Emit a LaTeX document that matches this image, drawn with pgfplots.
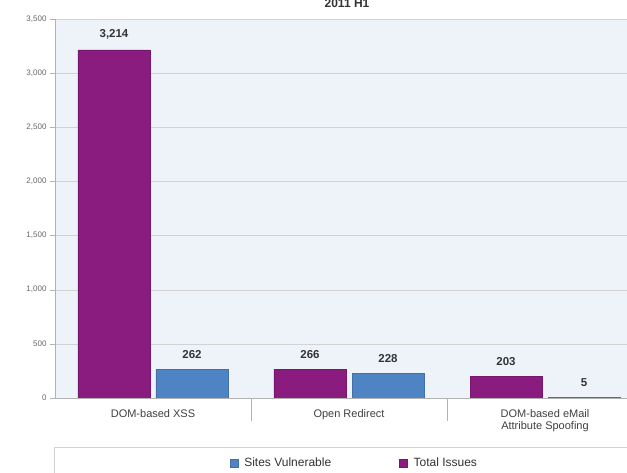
\documentclass[border=0pt]{standalone}
\usepackage{fontspec}
\setmainfont{Liberation Sans}
\usepackage{pgfplots}
\pgfplotsset{compat=1.18}
\definecolor{pur}{HTML}{8A1B7F}
\definecolor{blu}{HTML}{4F84C4}
\definecolor{bgc}{HTML}{EEF3FA}
\begin{document}
\begin{tikzpicture}[x=1pt,y=1pt]
\path[use as bounding box] (-55,-75) rectangle (572,398);
\draw[gray!35, fill=white] (-1,-80) rectangle (650,-49);
\node[font=\bfseries\fontsize{12}{13}\selectfont, text=black!80] at (292,395) {2011 H1};
\begin{axis}[
  scale only axis,
  width=588pt, height=379pt,
  xmin=-0.5, xmax=2.5, ymin=0, ymax=3500,
  axis background/.style={fill=bgc},
  axis x line=bottom, axis y line=left,
  axis line style={-, gray!60},
  ytick={0,500,...,3500},
  ymajorgrids, grid style={gray!35},
  xtick={0,1,2},
  xticklabels={DOM-based XSS, Open Redirect, {DOM-based eMail\\Attribute Spoofing}},
  minor xtick={0.5,1.5},
  major x tick style={draw=none},
  minor x tick style={gray!60},
  minor tick length=23pt,
  x tick label style={font=\fontsize{11}{12}\selectfont, align=center, text=black!75, yshift=-3pt},
  y tick label style={font=\fontsize{8}{9}\selectfont, text=black!60},
  /pgf/number format/assume math mode=true,
  /pgf/number format/1000 sep={,},
  major tick length=5pt,
  tick align=outside,
  y tick style={gray!60},
  ybar, bar width=72pt,
  nodes near coords,
  every node near coord/.append style={font=\bfseries\fontsize{11.5}{12}\selectfont, text=black!80, yshift=7pt},
  legend columns=2,
  legend style={at={(0.292,-0.1715)}, anchor=west, draw=none, fill=none,
    font=\fontsize{12}{13}\selectfont, text=black!80,
    nodes={inner xsep=6pt},
    /tikz/every even column/.append style={column sep=62pt}},
  legend image code/.code={\fill[#1] (0pt,-4pt) rectangle (8pt,4pt);},
]
\addplot[fill=blu, draw=blu!85!black, bar shift=39pt] coordinates {(0,262) (1,228) (2,5)};
\addlegendentry{Sites Vulnerable}
\addplot[fill=pur, draw=pur!85!black, bar shift=-39pt] coordinates {(0,3214) (1,266) (2,203)};
\addlegendentry{Total Issues}
\end{axis}
\end{tikzpicture}
\end{document}
